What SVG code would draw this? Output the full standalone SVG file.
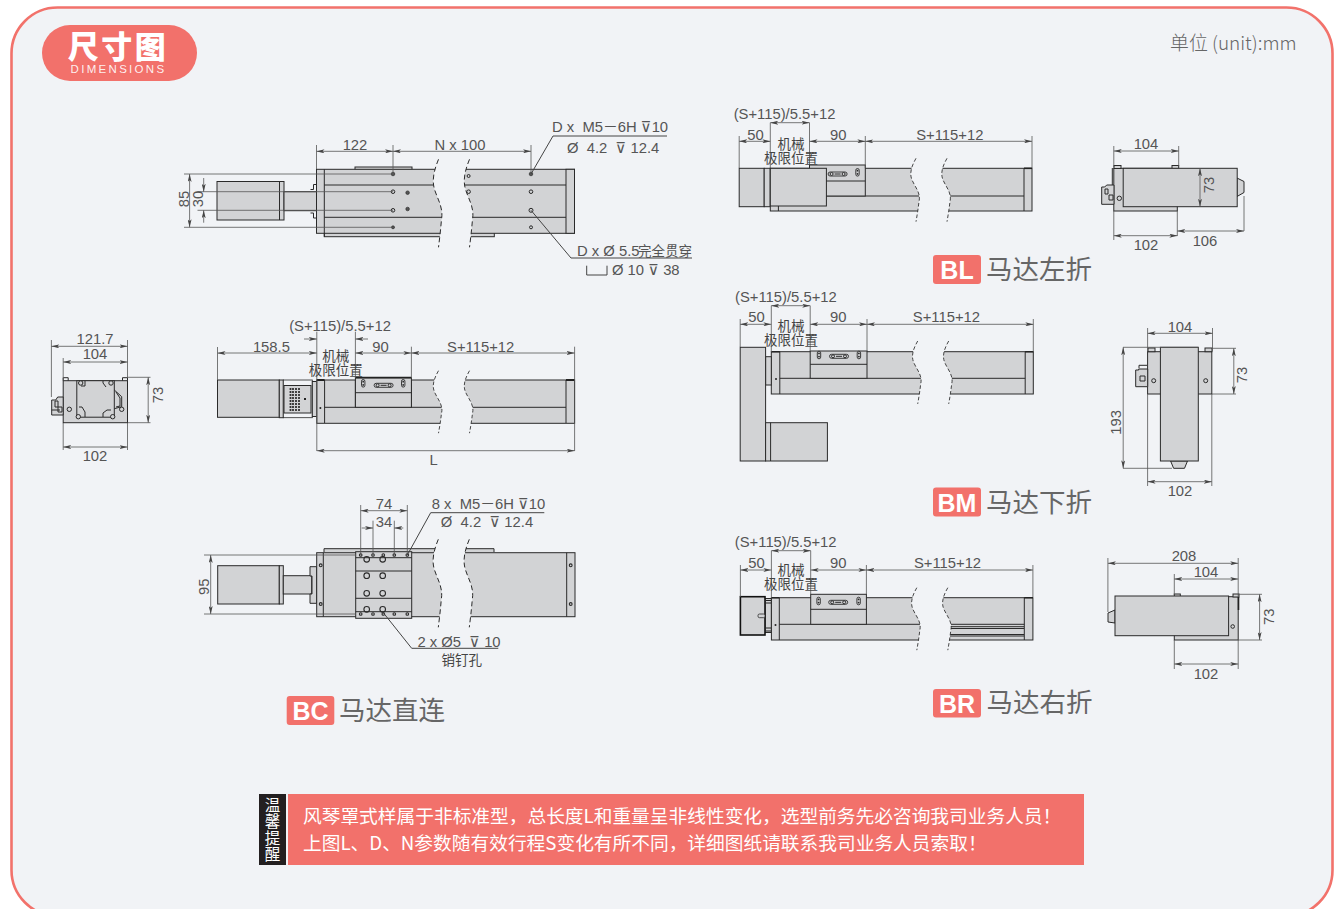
<svg xmlns="http://www.w3.org/2000/svg" width="1335" height="909" viewBox="0 0 1335 909">
<style>
text{font-family:"Liberation Sans","DejaVu Sans","Noto Sans CJK SC",sans-serif}
.t{font-size:14.8px;fill:#555;text-anchor:middle}
.s{text-anchor:start}
.c{font-size:13.5px;fill:#444;text-anchor:middle;font-family:"Noto Sans CJK SC",sans-serif}
.b{fill:#d2d3d5;stroke:#2a2a2a;stroke-width:1}
.l{fill:none;stroke:#2a2a2a;stroke-width:1}
.e{fill:none;stroke:#555;stroke-width:.8}
.d{fill:none;stroke:#555;stroke-width:.8;marker-start:url(#a);marker-end:url(#a)}
.d1{fill:none;stroke:#555;stroke-width:.8;marker-end:url(#a)}
.ld{fill:none;stroke:#444;stroke-width:1}
.u{fill:#555;stroke:#222;stroke-width:.6}
.o{fill:#d2d3d5;stroke:#2a2a2a;stroke-width:1}
.tag{fill:#f2716b}
.tt{font-size:25px;font-weight:700;fill:#fff;text-anchor:middle}
.ct{font-size:26.5px;fill:#666;font-family:"Noto Sans CJK SC",sans-serif}
.n{font-size:18.72px;fill:#fff;font-family:"Noto Sans CJK SC",sans-serif}
.w{font-size:15.5px;fill:#fff;text-anchor:middle;font-family:"Noto Sans CJK SC",sans-serif}
.dash{fill:none;stroke:#2a2a2a;stroke-width:1;stroke-dasharray:5 3}
</style>
<defs>
<marker id="a" viewBox="0 0 8 4" refX="8" refY="2" markerWidth="8" markerHeight="4" markerUnits="userSpaceOnUse" orient="auto-start-reverse"><path d="M0,0L8,2L0,4L2,2Z" fill="#444"/></marker>
<g id="brk">
<path d="M0,0C-4,10-7,20-4,30C-1,40 5,48 3,60C2,72 1,80 0,88L31,88C32,80 33,72 34,60C36,48 30,40 27,30C24,20 27,10 31,0Z" fill="#f1f3f6"/>
<path class="dash" d="M0,0C-4,10-7,20-4,30C-1,40 5,48 3,60C2,72 1,80 0,88"/>
<path class="dash" d="M31,0C27,10 24,20 27,30C30,40 36,48 34,60C33,72 32,80 31,88"/>
</g>
<g id="slot"><rect x="-9.500" y="-2" width="19" height="4" rx="2" fill="#d2d3d5" stroke="#2a2a2a" stroke-width=".9"/><circle cx="-6" r="1.500" class="o"/><circle cx="6" r="1.500" class="o"/><path d="M-3,0H3" stroke="#2a2a2a"/></g>
<g id="obl"><rect x="-1.700" y="-3.800" width="3.400" height="7.600" rx="1.700" fill="#d2d3d5" stroke="#2a2a2a" stroke-width=".9"/><circle r=".9" cy="-1.600" fill="#2a2a2a"/><circle r=".9" cy="1.600" fill="#2a2a2a"/></g>
</defs>

<rect width="1335" height="909" fill="#fff"/>
<rect x="11.500" y="7.500" width="1321" height="908.500" rx="46" fill="#f1f3f6" stroke="#f2726b" stroke-width="2.600"/>

<g id="title">
<rect x="42" y="25" width="155" height="56" rx="28" class="tag"/>
<text x="118" y="57.500" font-size="31" font-weight="900" fill="#fff" text-anchor="middle" letter-spacing="2.500" style="font-family:'Noto Sans CJK SC',sans-serif">尺寸图</text>
<text x="118.500" y="73" font-size="11.500" fill="#fff" fill-opacity=".9" text-anchor="middle" letter-spacing="2.300">DIMENSIONS</text>
</g>
<text id="unit" x="1170" y="50" font-size="18.900" fill="#666" style="font-family:'Noto Sans CJK SC',sans-serif;font-weight:300">单位 (unit):mm</text>

<g id="view-top">
<rect class="b" x="217" y="181.500" width="67" height="38.500"/><path class="l" d="M279.500,181.500V220"/>
<rect class="b" x="284" y="191.700" width="32.500" height="19"/>
<path class="l" d="M310.500,189.500h3v-5h3M310.500,213h3v5h3"/>
<rect class="b" x="355" y="167" width="57" height="3"/>
<rect class="b" x="324.300" y="225" width="170" height="11.700"/>
<rect class="b" x="316.500" y="169.300" width="258" height="64"/>
<path class="l" d="M324.300,169.300V236.700M324.300,185H566M324.300,217.300H566"/>
<rect class="b" x="566" y="169.300" width="8.500" height="64"/>
<use href="#brk" x="438.500" y="159.300"/>
<g class="holes">
<circle class="u" cx="393" cy="174" r="1.800"/><circle class="o" cx="393" cy="191.700" r="1.800"/><circle class="o" cx="393" cy="210.300" r="1.800"/><circle class="u" cx="393" cy="227.300" r="1.500"/>
<circle class="u" cx="407.600" cy="192.700" r="1.800"/><circle class="u" cx="407.600" cy="209" r="1.800"/>
<circle class="o" cx="468.600" cy="176" r="1.500"/><circle class="o" cx="468.600" cy="191.700" r="1.800"/>
<circle class="u" cx="531" cy="174" r="1.800"/><circle class="o" cx="531" cy="191.700" r="1.800"/><circle class="o" cx="531" cy="210.300" r="2"/><circle class="o" cx="531" cy="227.300" r="1.500"/>
</g>
<path class="e" d="M184,174H393M184,227.300H393M197.500,191.700H393M197.500,210.300H393M316.500,145V169M393,145V174M531,145V174"/>
<path class="d" d="M189.600,174V227.300"/><path class="d1" d="M203.700,178V191.700"/><path class="d1" d="M203.700,222.700V210.300"/>
<path class="d" d="M316.500,151.300H393"/><path class="d" d="M393,151.300H531"/>
<path class="ld" d="M531,174L553,136H667M531,210.300L571,258H692"/>
<path class="ld" d="M586.700,265.700V275H607V265.700"/>
<text class="t" x="355" y="150">122</text>
<text class="t" x="460" y="150">N x 100</text>
<text class="t" transform="translate(189,199) rotate(-90)">85</text>
<text class="t" transform="translate(203,199) rotate(-90)">30</text>
<text class="t s" x="552" y="132">D x&#160; M5－6H ⊽10</text>
<text class="t s" x="567" y="153">Ø&#160; 4.2&#160; ⊽ 12.4</text>
<text class="t s" x="577" y="256">D x Ø 5.5<tspan x="638" style="font-family:'Noto Sans CJK SC',sans-serif" font-size="13.500">完全贯穿</tspan></text>
<text class="t s" x="612" y="275">Ø 10 ⊽ 38</text>
</g>

<g id="view-end">
<rect class="b" x="63.200" y="380.700" width="64.300" height="42"/>
<rect class="b" x="76.800" y="380.700" width="37.500" height="36.500"/>
<path class="l" d="M114.300,390l7.400,6.700v10l-7.400,2M116,392l4,6v8l-4,1"/>
<path class="l" d="M63.200,380.700v-3h5v3M127.500,380.700v-3h-5v3M85,381v5h-4M103,381v2l3,4M79,407h3l3,5v5M103,417v-4l4,-3h4"/>
<path class="b" d="M51.700,415V400h4l2,-3h5.500V415Z"/>
<path class="l" d="M55,401h3v6h-3ZM58,407h4v5h-4ZM51.700,410H60"/>
<circle class="o" cx="69.300" cy="409.300" r="2.200"/><circle class="o" cx="121.700" cy="409.300" r="2.200"/>
<circle class="o" cx="80.700" cy="383" r="2.200"/><circle class="o" cx="111" cy="383" r="2.200"/><circle class="o" cx="78.300" cy="416.700" r="2.200"/><circle class="o" cx="112.700" cy="416.700" r="2.200"/>
<path class="e" d="M51.400,340V397M127.500,340V378M63.200,358V380M63.200,423V450M127.500,423V450M127.500,377.300H150.500M127.500,422.700H150.500"/>
<path class="d" d="M51.400,346.300H127.500"/><path class="d" d="M63.200,362H127.500"/><path class="d" d="M148.200,377.300V422.700"/><path class="d" d="M63.200,447H127.500"/>
<text class="t" x="95" y="344">121.7</text><text class="t" x="95" y="359">104</text><text class="t" x="95" y="461">102</text>
<text class="t" transform="translate(163,395) rotate(-90)">73</text>
</g>

<g id="view-side">
<rect class="b" x="217.500" y="380" width="61.800" height="37.300"/>
<rect x="279.300" y="380" width="4" height="37.700" class="b"/>
<rect x="283.300" y="380" width="29" height="37.700" fill="#f1f3f6" stroke="#2a2a2a" stroke-width=".8"/>
<rect class="b" x="284" y="385.500" width="27" height="27.500"/>
<path d="M290.500,388V411M293,388V411M296,388V411M299,388V411" stroke="#333" stroke-width="1.800" stroke-dasharray="2 1"/>
<rect x="304" y="398" width="2" height="2" fill="#222"/>
<rect class="b" x="312.300" y="381.500" width="5" height="35"/>
<rect class="b" x="316.800" y="380" width="257.800" height="43.300"/>
<path class="l" d="M324.600,380V423M324.600,407.300H566M355.400,380V407M411.400,380V407M566,380V423"/>
<path d="M316.800,380H324.600M566,380H574.600" stroke="#222" stroke-width="1.800"/>
<rect class="b" x="355.400" y="377.700" width="56" height="29.600"/>
<path d="M355.400,377.700H411.400" stroke="#222" stroke-width="1.800"/><path class="l" d="M355.400,392.700H411.400"/>
<use href="#obl" x="363.200" y="383.300"/><use href="#obl" x="403.200" y="383.300"/><use href="#slot" x="383.600" y="385.300"/>
<circle cx="320.400" cy="408" r="1" fill="#222"/>
<use href="#brk" transform="translate(438.500,370.700) scale(1,.71)"/>
<path class="e" d="M217.500,347V380M316.800,331.700V451M355.400,331.700V378M411.400,346.700V378M574.600,346.700V451"/>
<path class="d" d="M217.500,353H316.800"/><path class="d" d="M355.400,353H411.400"/><path class="d" d="M411.400,353H574.600"/><path class="d" d="M316.800,450.700H574.600"/>
<path class="d1" d="M304,339H316.800"/><path class="d1" d="M368,339H355.400"/>
<text class="t" x="271.400" y="352">158.5</text><text class="t" x="380.500" y="352">90</text><text class="t" x="480.700" y="352">S+115+12</text>
<text class="t" x="340" y="331">(S+115)/5.5+12</text>
<text class="c" x="335.700" y="361">机械</text><text class="c" x="335.700" y="375">极限位置</text>
<text class="t" x="433.600" y="465">L</text>
</g>

<g id="view-bc">
<rect class="b" x="217.700" y="565.700" width="61.600" height="38.300"/>
<rect class="b" x="279.300" y="565.700" width="4" height="38.300"/>
<rect class="b" x="283.300" y="575.700" width="28.400" height="18.300"/>
<path class="b" d="M310,566.700h6.700v36.600h-6.700v-9.300h2v-18h-2Z"/>
<path class="b" d="M324,552V548.700H494V552"/>
<rect class="b" x="316.700" y="552.700" width="258.300" height="64"/>
<path class="l" d="M323.300,552.700V616.700M566.700,552.700V616.700"/>
<use href="#brk" x="438.300" y="539.300"/>
<rect class="b" x="355.700" y="551.700" width="56" height="66.600"/>
<path class="l" d="M355.700,557.700H411.700M355.700,571H411.700M355.700,598.300H411.700M355.700,611.700H411.700"/>
<g fill="none" stroke="#2a2a2a" stroke-width="1.100">
<circle cx="366.700" cy="559.300" r="2.800"/><circle cx="382.700" cy="559.300" r="2.800"/><circle cx="366.700" cy="575.700" r="2.800"/><circle cx="382.700" cy="575.700" r="2.800"/><circle cx="366.700" cy="593.300" r="2.800"/><circle cx="382.700" cy="593.300" r="2.800"/><circle cx="366.700" cy="609.300" r="2.800"/><circle cx="382.700" cy="609.300" r="2.800"/>
<circle cx="360.700" cy="555" r="1.300"/><circle cx="373" cy="555" r="1.300"/><circle cx="383.300" cy="555" r="1.300"/><circle cx="394.300" cy="555" r="1.300"/><circle cx="407.300" cy="555" r="1.300"/>
<circle cx="360.700" cy="614" r="1.300"/><circle cx="373" cy="614" r="1.300"/><circle cx="383.300" cy="614" r="1.300"/><circle cx="394.300" cy="614" r="1.300"/><circle cx="407.300" cy="614" r="1.300"/>
<circle cx="320.700" cy="565.300" r="1.400"/><circle cx="320.700" cy="604" r="1.400"/><circle cx="570.700" cy="565.300" r="1.400"/><circle cx="570.700" cy="604" r="1.400"/>
</g>
<path class="e" d="M204,555H356M204,614H356M360.700,505V555M407.300,505V555M373,520.700V555M394.300,520.700V555"/>
<path class="d" d="M210.700,555V614"/><path class="d" d="M360.700,510.700H407.300"/>
<path class="d1" d="M361.700,528H373"/><path class="d1" d="M403.300,528H394.300"/>
<path class="ld" d="M407.300,555L430.700,512.700H544.300M383.300,612.700L411.700,648.300H498.300"/>
<text class="t" transform="translate(209,586.700) rotate(-90)">95</text>
<text class="t" x="384" y="509">74</text><text class="t" x="384" y="526.500">34</text>
<text class="t" x="488.500" y="509">8 x&#160; M5－6H ⊽10</text>
<text class="t" x="487" y="527">Ø&#160; 4.2&#160; ⊽ 12.4</text>
<text class="t" x="459" y="647">2 x Ø5&#160; ⊽ 10</text>
<text class="c" x="461.700" y="665" font-size="13">销钉孔</text>
</g>
<g id="label-bc"><rect class="tag" x="286.700" y="696" width="47.600" height="29" rx="3"/><text class="tt" x="310.500" y="720">BC</text><text class="ct" x="339" y="720">马达直连</text></g>

<g id="view-bl">
<rect class="b" x="739.200" y="168.300" width="25" height="38.400"/>
<rect class="b" x="764.200" y="168.300" width="6.100" height="38.400"/>
<rect class="b" x="770.300" y="168.300" width="261.700" height="42.700"/>
<path class="l" d="M778.400,206V211M778.400,196H1024V168.300M1024,196V211"/>
<path d="M1024,168.300H1032" stroke="#222" stroke-width="1.600"/>
<rect class="b" x="809.500" y="165" width="55.800" height="31"/>
<path class="l" d="M809.500,181H865.300"/>
<use href="#obl" x="857.500" y="172.300"/><use href="#slot" x="837.600" y="174"/>
<rect class="b" x="770.300" y="168.300" width="56.100" height="37.700"/>
<use href="#brk" transform="translate(916,158.300) scale(1,.72)"/>
<path class="e" d="M739.200,136V168M770.300,122.700V168M809.500,122.700V165M865.300,136V168M1032,136V168"/>
<path class="d" d="M739.200,141.300H770.300"/><path class="d" d="M809.500,141.300H865.300"/><path class="d" d="M865.300,141.300H1032"/><path class="d" d="M770.300,122.700H809.500"/>
<text class="t" x="755.400" y="139.500">50</text><text class="t" x="838.300" y="139.500">90</text><text class="t" x="949.800" y="139.500">S+115+12</text>
<text class="t" x="784.500" y="118.500">(S+115)/5.5+12</text>
<text class="c" x="791" y="148.500">机械</text><text class="c" x="791" y="162.500">极限位置</text>
</g>
<g id="view-bl-end">
<rect class="b" x="1113.800" y="168.300" width="63.500" height="42.700"/>
<path class="b" d="M1237,178l7,3.500v11l-7,4Z"/>
<path class="b" d="M1101.700,204.300V187h3l2,-2h7.300v19.300Z"/>
<path class="l" d="M1105,189h3v5h-3ZM1109,195h4v5h-4ZM1112.300,168V185"/>
<rect class="b" x="1114" y="165.500" width="7" height="3"/>
<rect class="b" x="1172" y="165.500" width="6.700" height="3"/>
<rect class="b" x="1123.200" y="168.300" width="114" height="38.400"/>
<circle class="o" cx="1119.300" cy="198.300" r="2.200"/>
<path class="e" d="M1113.800,146V167M1178.700,146V166M1113.800,211V240M1177.300,211V236M1244,196V231"/>
<path class="d" d="M1113.800,151H1178.700"/><path class="d" d="M1200,168.300V206.700"/><path class="d" d="M1113.800,235.700H1177.300"/><path class="d" d="M1177.300,231H1244"/>
<text class="t" x="1146" y="148.500">104</text><text class="t" x="1146" y="250">102</text><text class="t" x="1205" y="246">106</text>
<text class="t" transform="translate(1214,185) rotate(-90)">73</text>
</g>
<g id="label-bl"><rect class="tag" x="933" y="255" width="48" height="29" rx="3"/><text class="tt" x="957" y="279">BL</text><text class="ct" x="986" y="279">马达左折</text></g>

<g id="view-bm">
<rect class="b" x="771.300" y="351.700" width="262" height="42.300"/>
<path class="l" d="M779.800,351.700V394M779.800,378.300H1025.200M1025.200,351.700V394"/>
<path d="M771.300,351.700H779.800M1025.200,351.700H1033.300" stroke="#222" stroke-width="1.600"/>
<rect class="b" x="810.200" y="351" width="56.800" height="27.300"/>
<path class="l" d="M810.200,364.300H867"/>
<use href="#obl" x="819" y="355"/><use href="#obl" x="858.900" y="355"/><use href="#slot" x="839" y="356.300"/>
<circle cx="776" cy="379" r="1" fill="#222"/>
<rect class="b" x="765.600" y="356.700" width="5.700" height="28.300"/>
<rect class="b" x="740.200" y="347.300" width="25.400" height="113.700"/>
<rect class="b" x="765.600" y="422.700" width="61.800" height="38.300"/><path class="l" d="M770.600,422.700V461"/>
<use href="#brk" transform="translate(917.700,341) scale(1,.715)"/>
<path class="e" d="M740.200,319V347M771.300,305.700V352M810.200,305.700V351M867,319V351M1033.300,319V352"/>
<path class="d" d="M740.200,324.300H771.300"/><path class="d" d="M810.200,324.300H867"/><path class="d" d="M867,324.300H1033.300"/><path class="d" d="M771.300,305.700H810.200"/>
<text class="t" x="756.400" y="322">50</text><text class="t" x="838.300" y="322">90</text><text class="t" x="946.400" y="322">S+115+12</text>
<text class="t" x="785.900" y="302">(S+115)/5.5+12</text>
<text class="c" x="791" y="331">机械</text><text class="c" x="791" y="345">极限位置</text>
</g>
<g id="view-bm-end">
<rect class="b" x="1147.600" y="351.700" width="64.200" height="42.300"/>
<rect class="b" x="1148" y="348" width="7" height="3.700"/><rect class="b" x="1205" y="348" width="7" height="3.700"/>
<path class="b" d="M1135.700,386.700V370h3v-1h9v17.700Z"/>
<path class="l" d="M1139,368.300v-3h8M1140,376h5v5h-5Z"/>
<circle class="o" cx="1153.700" cy="380.700" r="2"/><circle class="o" cx="1205.700" cy="380.700" r="2"/>
<path class="b" d="M1170.600,461l3,7.300h10.900l3,-7.300Z"/>
<rect class="b" x="1160.400" y="347.300" width="37.900" height="113.700"/>
<path class="e" d="M1147.600,328V351M1212.500,328V351M1198.300,347.300H1123M1212,348.300H1236M1212,394H1236M1123,468.300H1172M1147.600,394V486M1211.800,394V486"/>
<path class="d" d="M1147.600,333.300H1212.500"/><path class="d" d="M1233.800,348.300V394"/><path class="d" d="M1123.200,347.300V468.300"/><path class="d" d="M1147.600,481.700H1211.800"/>
<text class="t" x="1180" y="332">104</text><text class="t" x="1180" y="496">102</text>
<text class="t" transform="translate(1247,375) rotate(-90)">73</text>
<text class="t" transform="translate(1120.500,422.300) rotate(-90)">193</text>
</g>
<g id="label-bm"><rect class="tag" x="933" y="487.500" width="48" height="29" rx="3"/><text class="tt" x="957" y="511.500">BM</text><text class="ct" x="986" y="511.500">马达下折</text></g>

<g id="view-br">
<rect class="b" x="765" y="598.500" width="6.400" height="34"/>
<path d="M766,600.500h5M766,603h5M766,628h5M766,631h5" stroke="#222" stroke-width="1.200"/>
<rect x="740.400" y="596.700" width="24.600" height="38.300" fill="#d2d3d5" stroke="#111" stroke-width="1.600"/>
<rect x="758" y="614" width="7" height="3.700" rx="1.500" fill="#d2d3d5" stroke="#2a2a2a" stroke-width=".8"/>
<rect class="b" x="771.400" y="597.700" width="261.500" height="42.300"/>
<path class="l" d="M779.300,597.700V640M779.300,624.300H1024.300M1024.300,597.700V640M945,626.700H1024M945,628.500H1024M945,634.500H1024M945,636H1024"/>
<path d="M771.400,597.700H779.300M1024.300,597.700H1032.900" stroke="#222" stroke-width="1.600"/>
<rect class="b" x="810.700" y="594.300" width="55.700" height="30"/>
<path class="l" d="M810.700,609.300H866.400"/>
<use href="#obl" x="818.600" y="601"/><use href="#obl" x="858.600" y="601"/><use href="#slot" x="838.200" y="602.300"/>
<circle cx="775.500" cy="625" r="1" fill="#222"/>
<use href="#brk" transform="translate(916.800,587.700) scale(1,.71)"/>
<path class="e" d="M740.400,565V597M771.400,550.700V598M810.700,550.700V594M866.400,565V594M1032.900,565V597"/>
<path class="d" d="M740.400,570H771.400"/><path class="d" d="M810.700,570H866.400"/><path class="d" d="M866.400,570H1032.900"/><path class="d" d="M771.400,550.700H810.700"/>
<text class="t" x="756.400" y="568">50</text><text class="t" x="838.200" y="568">90</text><text class="t" x="947.500" y="568">S+115+12</text>
<text class="t" x="785.700" y="547">(S+115)/5.5+12</text>
<text class="c" x="791" y="574.500">机械</text><text class="c" x="791" y="588.500">极限位置</text>
</g>
<g id="view-br-end">
<rect class="b" x="1174.300" y="594" width="6" height="3"/>
<rect class="b" x="1174.300" y="596.700" width="63.900" height="43.300"/>
<rect class="b" x="1233" y="594" width="6" height="3"/>
<path d="M1238.500,597V610" stroke="#222" stroke-width="1.600"/>
<path class="b" d="M1115,610l-7,3v9l7,1Z"/>
<rect class="b" x="1115" y="596" width="113.600" height="39.700"/>
<circle class="o" cx="1232.700" cy="626.500" r="1.800"/>
<path class="e" d="M1107.900,558V612M1238.200,558V597M1174.300,574V595M1174.300,640V669M1238.200,640V669M1238.200,594.300H1262M1238.200,640H1262"/>
<path class="d" d="M1107.900,563.300H1238.200"/><path class="d" d="M1174.300,579H1238.200"/><path class="d" d="M1259.600,594.300V640"/><path class="d" d="M1174.300,664H1238.200"/>
<text class="t" x="1184" y="561">208</text><text class="t" x="1206" y="577">104</text><text class="t" x="1206" y="678.500">102</text>
<text class="t" transform="translate(1273.500,616.700) rotate(-90)">73</text>
</g>
<g id="label-br"><rect class="tag" x="933" y="689" width="48" height="28.500" rx="3"/><text class="tt" x="957" y="713">BR</text><text class="ct" x="986.500" y="712">马达右折</text></g>

<g id="notice">
<rect x="259" y="794" width="27" height="71" fill="#231f20"/>
<rect x="288" y="794" width="796" height="71" class="tag"/>
<text class="w" x="272.500" y="811">温</text><text class="w" x="272.500" y="827">馨</text><text class="w" x="272.500" y="844">提</text><text class="w" x="272.500" y="860">醒</text>
<text class="n" x="303" y="823">风琴罩式样属于非标准型，总长度L和重量呈非线性变化，选型前务先必咨询我司业务人员！</text>
<text class="n" x="303" y="850">上图L、D、N参数随有效行程S变化有所不同，详细图纸请联系我司业务人员索取！</text>
</g>
</svg>
